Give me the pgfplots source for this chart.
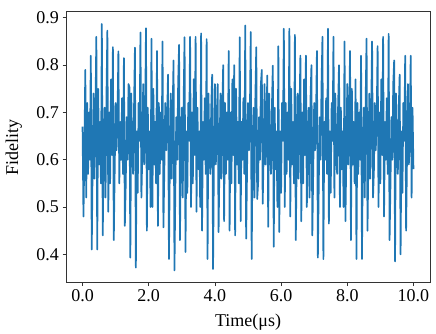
\documentclass[border=0pt]{standalone}
\usepackage{fontspec}
\setmainfont{Liberation Serif}
\usepackage{pgfplots}
\usepackage{pgfplotstable}
\pgfplotsset{compat=1.18}
\definecolor{mplblue}{HTML}{1F77B4}

\pgfplotstableread{
t v
0.000 0.67
0.028 0.48
0.056 0.62
0.083 0.79
0.111 0.52
0.139 0.72
0.167 0.57
0.194 0.70
0.222 0.60
0.250 0.82
0.278 0.41
0.306 0.60
0.333 0.74
0.361 0.56
0.389 0.70
0.417 0.86
0.444 0.41
0.472 0.75
0.500 0.59
0.528 0.68
0.556 0.55
0.583 0.887
0.611 0.44
0.639 0.63
0.667 0.71
0.694 0.52
0.722 0.73
0.750 0.873
0.778 0.49
0.806 0.70
0.833 0.55
0.861 0.77
0.889 0.61
0.917 0.838
0.944 0.43
0.972 0.58
1.000 0.72
1.028 0.62
1.056 0.69
1.083 0.829
1.111 0.55
1.139 0.68
1.167 0.60
1.194 0.73
1.222 0.57
1.250 0.815
1.278 0.46
1.306 0.55
1.333 0.69
1.361 0.60
1.389 0.76
1.417 0.753
1.444 0.393
1.472 0.74
1.500 0.62
1.528 0.57
1.556 0.71
1.583 0.837
1.611 0.372
1.639 0.66
1.667 0.53
1.694 0.72
1.722 0.64
1.750 0.869
1.778 0.52
1.806 0.61
1.833 0.76
1.861 0.59
1.889 0.67
1.917 0.878
1.944 0.45
1.972 0.71
2.000 0.58
2.028 0.66
2.056 0.50
2.083 0.856
2.111 0.50
2.139 0.75
2.167 0.59
2.194 0.68
2.222 0.55
2.250 0.83
2.278 0.46
2.306 0.72
2.333 0.57
2.361 0.70
2.389 0.60
2.417 0.85
2.444 0.457
2.472 0.58
2.500 0.72
2.528 0.62
2.556 0.69
2.583 0.78
2.611 0.39
2.639 0.60
2.667 0.74
2.694 0.56
2.722 0.70
2.750 0.81
2.778 0.366
2.806 0.55
2.833 0.69
2.861 0.60
2.889 0.76
2.917 0.843
2.944 0.43
2.972 0.63
3.000 0.71
3.028 0.52
3.056 0.73
3.083 0.859
3.111 0.405
3.139 0.66
3.167 0.53
3.194 0.72
3.222 0.64
3.250 0.86
3.278 0.50
3.306 0.70
3.333 0.55
3.361 0.77
3.389 0.61
3.417 0.86
3.444 0.49
3.472 0.71
3.500 0.58
3.528 0.66
3.556 0.50
3.583 0.867
3.611 0.45
3.639 0.68
3.667 0.60
3.694 0.73
3.722 0.57
3.750 0.855
3.778 0.39
3.806 0.74
3.833 0.62
3.861 0.57
3.889 0.71
3.917 0.78
3.944 0.369
3.972 0.61
4.000 0.76
4.028 0.59
4.056 0.67
4.083 0.76
4.111 0.447
4.139 0.60
4.167 0.74
4.194 0.56
4.222 0.70
4.250 0.80
4.278 0.47
4.306 0.72
4.333 0.57
4.361 0.70
4.389 0.60
4.417 0.83
4.444 0.45
4.472 0.70
4.500 0.55
4.528 0.77
4.556 0.61
4.583 0.80
4.611 0.44
4.639 0.75
4.667 0.59
4.694 0.68
4.722 0.55
4.750 0.859
4.778 0.47
4.806 0.68
4.833 0.60
4.861 0.73
4.889 0.57
4.917 0.884
4.944 0.433
4.972 0.58
5.000 0.72
5.028 0.62
5.056 0.69
5.083 0.87
5.111 0.39
5.139 0.63
5.167 0.71
5.194 0.52
5.222 0.73
5.250 0.838
5.278 0.517
5.306 0.55
5.333 0.69
5.361 0.60
5.389 0.76
5.417 0.79
5.444 0.507
5.472 0.61
5.500 0.76
5.528 0.59
5.556 0.67
5.583 0.778
5.611 0.458
5.639 0.74
5.667 0.62
5.694 0.57
5.722 0.71
5.750 0.799
5.778 0.416
5.806 0.71
5.833 0.58
5.861 0.66
5.889 0.50
5.917 0.84
5.944 0.447
5.972 0.66
6.000 0.53
6.028 0.72
6.056 0.64
6.083 0.877
6.111 0.50
6.139 0.72
6.167 0.57
6.194 0.70
6.222 0.60
6.250 0.877
6.278 0.48
6.306 0.75
6.333 0.59
6.361 0.68
6.389 0.55
6.417 0.864
6.444 0.43
6.472 0.60
6.500 0.74
6.528 0.56
6.556 0.70
6.583 0.82
6.611 0.47
6.639 0.70
6.667 0.55
6.694 0.77
6.722 0.61
6.750 0.82
6.778 0.50
6.806 0.63
6.833 0.71
6.861 0.52
6.889 0.73
6.917 0.80
6.944 0.44
6.972 0.58
7.000 0.72
7.028 0.62
7.056 0.69
7.083 0.83
7.111 0.393
7.139 0.55
7.167 0.69
7.194 0.60
7.222 0.76
7.250 0.86
7.278 0.39
7.306 0.68
7.333 0.60
7.361 0.73
7.389 0.57
7.417 0.877
7.444 0.465
7.472 0.66
7.500 0.53
7.528 0.72
7.556 0.64
7.583 0.86
7.611 0.52
7.639 0.74
7.667 0.62
7.694 0.57
7.722 0.71
7.750 0.80
7.778 0.50
7.806 0.71
7.833 0.58
7.861 0.66
7.889 0.50
7.917 0.85
7.944 0.47
7.972 0.61
8.000 0.76
8.028 0.59
8.056 0.67
8.083 0.83
8.111 0.43
8.139 0.75
8.167 0.59
8.194 0.68
8.222 0.55
8.250 0.77
8.278 0.39
8.306 0.72
8.333 0.57
8.361 0.70
8.389 0.60
8.417 0.82
8.444 0.39
8.472 0.63
8.500 0.71
8.528 0.52
8.556 0.73
8.583 0.856
8.611 0.45
8.639 0.60
8.667 0.74
8.694 0.56
8.722 0.70
8.750 0.85
8.778 0.52
8.806 0.58
8.833 0.72
8.861 0.62
8.889 0.69
8.917 0.84
8.944 0.50
8.972 0.70
9.000 0.55
9.028 0.77
9.056 0.61
9.083 0.86
9.111 0.48
9.139 0.68
9.167 0.60
9.194 0.73
9.222 0.57
9.250 0.866
9.278 0.43
9.306 0.55
9.333 0.69
9.361 0.60
9.389 0.76
9.417 0.81
9.444 0.385
9.472 0.74
9.500 0.62
9.528 0.57
9.556 0.71
9.583 0.78
9.611 0.40
9.639 0.66
9.667 0.53
9.694 0.72
9.722 0.64
9.750 0.82
9.778 0.45
9.806 0.61
9.833 0.76
9.861 0.59
9.889 0.67
9.917 0.82
9.944 0.52
9.972 0.71
10.000 0.58
}\fidelity

\begin{document}
\begin{tikzpicture}
\begin{axis}[
  scale only axis, width=364pt, height=271pt,
  xmin=-0.5, xmax=10.5, ymin=0.34, ymax=0.913,
  xtick={0,2,4,6,8,10}, ytick={0.4,0.5,0.6,0.7,0.8,0.9},
  /pgf/number format/assume math mode=true,
  xticklabel style={/pgf/number format/.cd,fixed,fixed zerofill,precision=1},
  yticklabel style={/pgf/number format/.cd,fixed,fixed zerofill,precision=1},
  tick align=outside, tick pos=left, major tick length=3.5pt,
  axis line style={black!80, line width=0.8pt},
  every tick/.style={black!80, line width=0.8pt},
  font=\fontsize{18}{21}\selectfont,
  xlabel={Time(μs)}, ylabel={Fidelity},
  xlabel style={at={(axis description cs:0.5,-0.144)}, anchor=center},
  ylabel style={at={(axis description cs:-0.143,0.5)}, anchor=center},
]
\addplot[mplblue, line width=1.7pt, line join=round] table[x=t, y=v] {\fidelity};
\end{axis}
\path ([xshift=-66pt,yshift=-50pt]current axis.south west) rectangle ([xshift=6pt,yshift=11.7pt]current axis.north east);
\end{tikzpicture}
\end{document}
